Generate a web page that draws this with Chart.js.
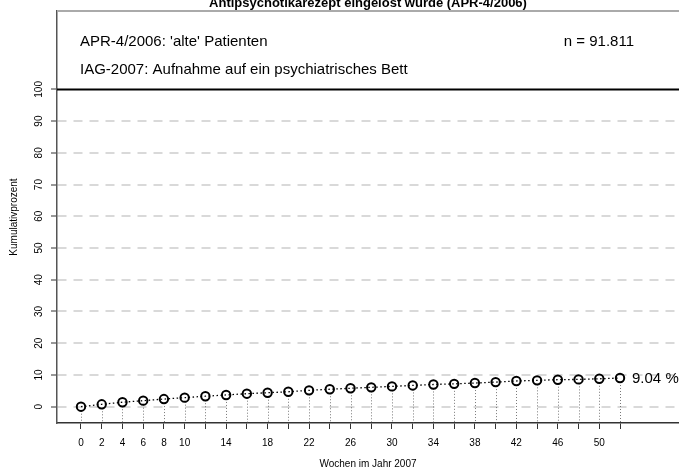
<!DOCTYPE html>
<html>
<head>
<meta charset="utf-8">
<script src="https://cdn.jsdelivr.net/npm/chart.js@4/dist/chart.umd.min.js"></script>
<style>
  html, body { margin: 0; padding: 0; background: #fff; }
  #wrap { width: 679px; height: 472px; }
</style>
</head>
<body>
<div id="wrap"><canvas id="c" width="679" height="472"></canvas></div>
<script>
// ---- data ----
const weeks = [0,2,4,6,8,10,12,14,16,18,20,22,24,26,28,30,32,34,36,38,40,42,44,46,48,50,52];
const cumPercent = [0,0.75,1.4,1.9,2.4,2.85,3.3,3.7,4.1,4.4,4.7,5.15,5.5,5.8,6.1,6.4,6.7,7.0,7.2,7.45,7.75,8.1,8.3,8.5,8.6,8.8,9.04];
const xLabelsShown = [0,2,4,6,8,10,14,18,22,26,30,34,38,42,46,50];
const yTicks = [0,10,20,30,40,50,60,70,80,90,100];
const yTickLabels = ['0','10','20','30','40','50','60','70','80','90','100'];
const titleText = "Antipsychotikarezept eingelöst würde (APR-4/2006)";
const noteLine1 = "APR-4/2006: 'alte' Patienten";
const noteLine2 = "IAG-2007: Aufnahme auf ein psychiatrisches Bett";
const nText = "n = 91.811";
const endLabel = "9.04 %";
const xTitle = "Wochen im Jahr 2007";
const yTitle = "Kumulativprozent";

const FONT = "'Liberation Sans', Arial, Helvetica, sans-serif";

const points = weeks.map((w, i) => ({x: w, y: cumPercent[i]}));

const extras = {
  id: 'extras',
  beforeDatasetsDraw(chart) {
    const {ctx, chartArea: a, scales: {x, y}} = chart;
    ctx.save();
    // reference line at 100
    const y100 = y.getPixelForValue(100);
    ctx.strokeStyle = '#000';
    ctx.lineWidth = 2;
    ctx.beginPath(); ctx.moveTo(a.left, y100); ctx.lineTo(a.right, y100); ctx.stroke();
    // top box line
    ctx.strokeStyle = '#aaaaaa';
    ctx.lineWidth = 2;
    ctx.beginPath(); ctx.moveTo(a.left, a.top); ctx.lineTo(a.right, a.top); ctx.stroke();
    // drop lines
    ctx.strokeStyle = '#555';
    ctx.lineWidth = 0.8;
    ctx.setLineDash([1, 2]);
    points.forEach(p => {
      const px = Math.round(x.getPixelForValue(p.x)) + 0.5;
      ctx.beginPath();
      ctx.moveTo(px, y.getPixelForValue(p.y) + 4);
      ctx.lineTo(px, a.bottom);
      ctx.stroke();
    });
    ctx.restore();
  },
  afterDraw(chart) {
    const {ctx, chartArea: a, scales: {x, y}} = chart;
    ctx.save();
    // y tick labels, rotated
    ctx.fillStyle = '#000';
    ctx.font = '10px ' + FONT;
    ctx.textAlign = 'center';
    ctx.textBaseline = 'middle';
    yTicks.forEach((v, i) => {
      const py = y.getPixelForValue(v);
      ctx.save();
      ctx.translate(39, py);
      ctx.rotate(-Math.PI / 2);
      ctx.fillText(yTickLabels[i], 0, 0);
      ctx.restore();
    });
    // title (cut at top)
    ctx.font = 'bold 13px ' + FONT;
    ctx.textAlign = 'center';
    ctx.textBaseline = 'alphabetic';
    ctx.fillText(titleText, 368, 7);
    // notes
    ctx.font = '15px ' + FONT;
    ctx.textAlign = 'left';
    ctx.textBaseline = 'middle';
    ctx.fillText(noteLine1, 80, 42);
    ctx.fillText(noteLine2, 80, 70);
    ctx.textAlign = 'right';
    ctx.fillText(nText, 634, 42);
    // end label
    const last = points[points.length - 1];
    ctx.textAlign = 'left';
    ctx.fillText(endLabel, x.getPixelForValue(last.x) + 12, y.getPixelForValue(last.y) + 1);
    ctx.restore();
  }
};

new Chart(document.getElementById('c'), {
  type: 'line',
  data: {
    datasets: [{
      data: points,
      borderColor: '#000',
      borderWidth: 1.3,
      borderDash: [1.5, 2.5],
      pointStyle: 'circle',
      pointRadius: 4.2,
      pointBorderWidth: 2,
      pointBorderColor: '#000',
      pointBackgroundColor: 'rgba(255,255,255,0)',
      tension: 0,
      clip: false
    }]
  },
  options: {
    responsive: false,
    animation: false,
    devicePixelRatio: 1,
    layout: { autoPadding: false, padding: { top: 11, left: 0, right: 0, bottom: 0 } },
    plugins: { legend: { display: false }, tooltip: { enabled: false }, title: { display: false } },
    scales: {
      x: {
        type: 'linear',
        min: -2.315,
        max: 57.69,
        afterBuildTicks: s => { s.ticks = weeks.map(v => ({value: v})); },
        afterFit: s => { s.height = 49; s.paddingRight = 0; s.paddingLeft = 0; },
        ticks: {
          autoSkip: false,
          maxRotation: 0,
          minRotation: 0,
          padding: 8,
          color: '#000',
          font: { size: 10, family: FONT },
          callback: v => xLabelsShown.includes(v) ? String(v) : ''
        },
        grid: {
          display: true,
          drawOnChartArea: false,
          drawTicks: true,
          tickLength: 6,
          tickColor: '#333',
          tickWidth: 1
        },
        border: { display: true, color: '#333', width: 1.5 },
        title: {
          display: true,
          text: xTitle,
          color: '#000',
          font: { size: 10, family: FONT },
          padding: { top: 0, bottom: 2 }
        }
      },
      y: {
        type: 'linear',
        min: -5.14,
        max: 124.7,
        afterBuildTicks: s => { s.ticks = yTicks.map(v => ({value: v})); },
        afterFit: s => { s.width = 57; s.paddingTop = 0; s.paddingBottom = 0; },
        ticks: {
          color: 'rgba(0,0,0,0)',
          font: { size: 10, family: FONT }
        },
        grid: {
          display: true,
          drawOnChartArea: true,
          drawTicks: true,
          tickLength: 6,
          tickColor: '#333',
          tickWidth: 1,
          lineWidth: 2,
          color: c => (c.tick && c.tick.value === 100) ? 'rgba(0,0,0,0)' : '#d9d9d9'
        },
        border: { display: true, color: '#555', width: 1.5, dash: [9, 7] },
        title: {
          display: true,
          text: yTitle,
          color: '#000',
          font: { size: 10, family: FONT },
          padding: { top: 8, bottom: 0 }
        }
      }
    }
  },
  plugins: [extras]
});
</script>
</body>
</html>
